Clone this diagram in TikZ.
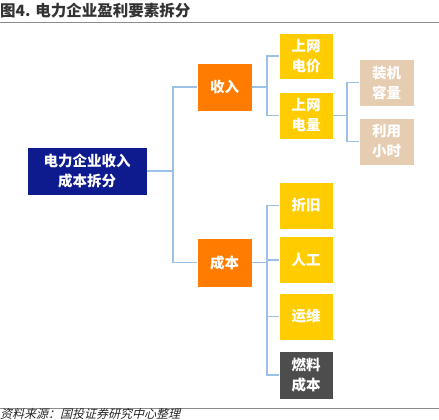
\documentclass[tikz,border=0pt]{standalone}
\usepackage{fontspec}
\setmainfont{Noto Sans CJK SC}
\newfontfamily\slantfont[FakeSlant=0.25]{Noto Sans CJK SC}
\definecolor{navy}{RGB}{13,27,143}
\definecolor{orng}{RGB}{255,124,0}
\definecolor{yell}{RGB}{255,204,0}
\definecolor{tan}{RGB}{230,204,176}
\definecolor{coal}{RGB}{77,77,77}
\definecolor{link}{RGB}{155,194,230}
\tikzset{
  box/.style={draw=white,line width=0.6pt,text=white,align=center,
              font=\fontsize{14.5}{20}\selectfont\bfseries,inner sep=0pt},
  conn/.style={draw=link,line width=1.4pt}
}
\begin{document}
\begin{tikzpicture}[x=1pt,y=-1pt]
\useasboundingbox (0,0) rectangle (439,420);
% title and rules
\draw (0,11) node[anchor=west,inner xsep=0pt,text=black!80,font=\fontsize{15.5}{18}\selectfont\bfseries] (title) {图4. 电力企业盈利要素拆分};
\draw[black!45,line width=1.6pt] (0,22.5) -- (439,22.5);
\draw[black!45,line width=0.8pt] (0,408.5) -- (439,408.5);
\draw (0,414) node[anchor=west,inner xsep=0pt,inner ysep=1pt,text=black!85,font=\fontsize{12}{13}\selectfont\slantfont] (source) {资料来源：国投证券研究中心整理};
% coordinates
\coordinate (bus1) at (173,171);
\coordinate (bus2) at (267,87);
\coordinate (bus3) at (347,115.5);
\coordinate (bus4) at (267,262.5);
% boxes
\node[box,fill=navy,minimum width=120,minimum height=48] (root) at (87,171) {电力企业收入\\成本拆分};
\node[box,fill=orng,minimum width=55,minimum height=48] (inc)  at (224.5,87)    {收入};
\node[box,fill=orng,minimum width=55,minimum height=49] (cost) at (224.5,262.5) {成本};
\node[box,fill=yell,minimum width=54,minimum height=46] (price) at (306,56)    {上网\\电价};
\node[box,fill=yell,minimum width=54,minimum height=47] (vol)   at (306,115.5) {上网\\电量};
\node[box,fill=tan,minimum width=55,minimum height=47] (capa)  at (386.5,82.5)  {装机\\容量};
\node[box,fill=tan,minimum width=55,minimum height=47] (hours) at (386.5,141.5) {利用\\小时};
\node[box,fill=yell,minimum width=54,minimum height=47] (depr)  at (306,205.5) {折旧};
\node[box,fill=yell,minimum width=54,minimum height=47] (labor) at (306,260)   {人工};
\node[box,fill=yell,minimum width=54,minimum height=47] (maint) at (306,316.5) {运维};
\node[box,fill=coal,minimum width=54,minimum height=48] (fuel)  at (306,375)   {燃料\\成本};
% connectors
\draw[conn] (root.east) -- (bus1);
\draw[conn] (bus1) |- (inc.west);
\draw[conn] (bus1) |- (cost.west);
\draw[conn] (inc.east) -- (bus2);
\draw[conn] (bus2) |- (price.west);
\draw[conn] (bus2) |- (vol.west);
\draw[conn] (vol.east) -- (bus3);
\draw[conn] (bus3) |- (capa.west);
\draw[conn] (bus3) |- (hours.west);
\draw[conn] (cost.east) -- (bus4);
\draw[conn] (bus4) |- (depr.west);
\draw[conn] (bus4) |- (labor.west);
\draw[conn] (bus4) |- (maint.west);
\draw[conn] (bus4) |- (fuel.west);
\end{tikzpicture}
\end{document}
